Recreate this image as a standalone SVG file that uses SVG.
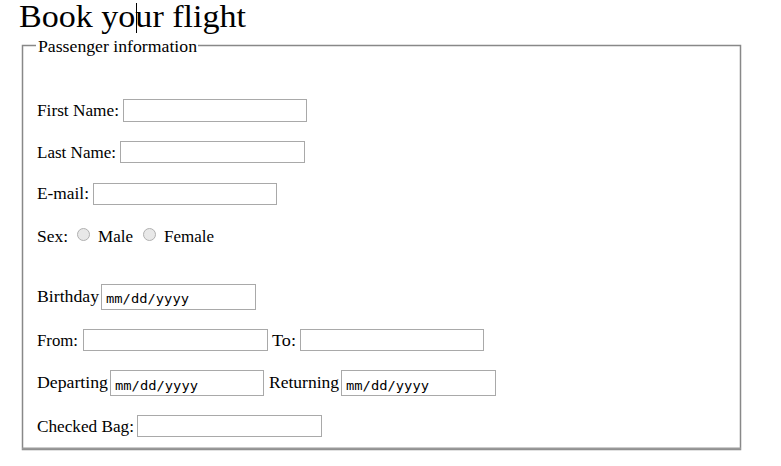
<svg xmlns="http://www.w3.org/2000/svg" width="781" height="466" viewBox="0 0 781 466">
<style>
text{font-family:"Liberation Serif","Times New Roman",serif;font-size:16px;fill:#000}
.in{fill:#fff;stroke:#a9a9a9;stroke-width:1}
.mono{font-family:"DejaVu Sans Mono","Liberation Mono",monospace;font-size:12.5px}
.rad{fill:#e8e8e8;stroke:#b0b0b0}
</style>
<rect width="781" height="466" fill="#fff"/>
<g id="title"><text x="19" y="27" style="font-size:32px" textLength="227" lengthAdjust="spacingAndGlyphs">Book your flight</text><line x1="136.5" y1="3" x2="136.5" y2="33" stroke="#000"/></g>
<g id="fieldset">
<path d="M36 45.5H22.5V449.5H740.5V45.5H198" fill="none" stroke="#888" stroke-width="1.5"/>
<line x1="22" y1="448.5" x2="741" y2="448.5" stroke="#999" stroke-width="2"/>
<text x="38" y="52" textLength="159" lengthAdjust="spacingAndGlyphs">Passenger information</text>
</g>
<g id="firstname"><text x="37" y="116" textLength="82" lengthAdjust="spacingAndGlyphs">First Name:</text><rect class="in" x="123.5" y="99.5" width="183" height="22"/></g>
<g id="lastname"><text x="37" y="158" textLength="79" lengthAdjust="spacingAndGlyphs">Last Name:</text><rect class="in" x="120.5" y="141.5" width="184" height="21"/></g>
<g id="email"><text x="37" y="199" textLength="52" lengthAdjust="spacingAndGlyphs">E-mail:</text><rect class="in" x="93.5" y="183.5" width="183" height="21"/></g>
<g id="sex"><text x="37" y="242" textLength="31" lengthAdjust="spacingAndGlyphs">Sex:</text><circle class="rad" cx="83.5" cy="234.5" r="6"/><text x="98" y="242" textLength="35" lengthAdjust="spacingAndGlyphs">Male</text><circle class="rad" cx="149.5" cy="234.5" r="6"/><text x="164" y="242" textLength="50" lengthAdjust="spacingAndGlyphs">Female</text></g>
<g id="birthday"><text x="37" y="302" textLength="62" lengthAdjust="spacingAndGlyphs">Birthday</text><rect class="in" x="101.5" y="284.5" width="154" height="25"/><text class="mono" x="106" y="303" textLength="83" lengthAdjust="spacingAndGlyphs">mm/dd/yyyy</text></g>
<g id="from"><text x="37" y="346" textLength="41" lengthAdjust="spacingAndGlyphs">From:</text><rect class="in" x="83.5" y="329.5" width="184" height="21"/></g>
<g id="to"><text x="272" y="346" textLength="24" lengthAdjust="spacingAndGlyphs">To:</text><rect class="in" x="300.5" y="329.5" width="183" height="21"/></g>
<g id="departing"><text x="37" y="388" textLength="71" lengthAdjust="spacingAndGlyphs">Departing</text><rect class="in" x="110.5" y="370.5" width="153" height="25"/><text class="mono" x="115" y="390" textLength="83" lengthAdjust="spacingAndGlyphs">mm/dd/yyyy</text></g>
<g id="returning"><text x="269" y="388" textLength="70" lengthAdjust="spacingAndGlyphs">Returning</text><rect class="in" x="341.5" y="370.5" width="154" height="25"/><text class="mono" x="346" y="390" textLength="83" lengthAdjust="spacingAndGlyphs">mm/dd/yyyy</text></g>
<g id="bag"><text x="37" y="432" textLength="97" lengthAdjust="spacingAndGlyphs">Checked Bag:</text><rect class="in" x="137.5" y="415.5" width="184" height="21"/></g>
<g id="connectors"/>
</svg>
